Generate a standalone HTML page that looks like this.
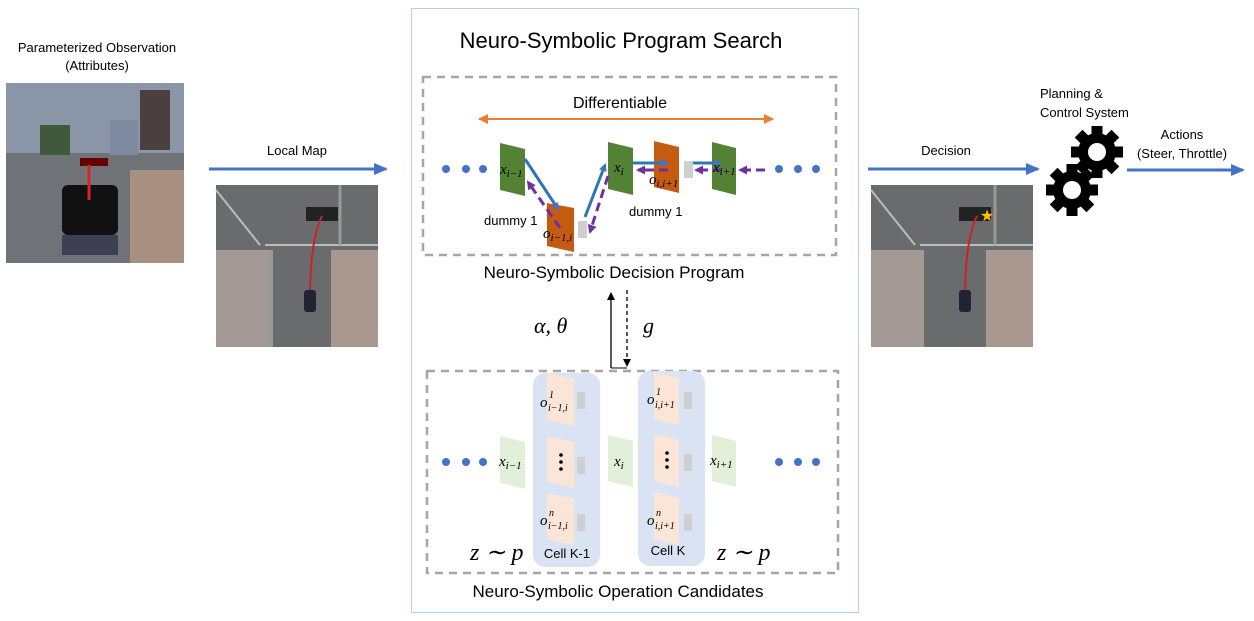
<!DOCTYPE html>
<html><head><meta charset="utf-8"><style>
body{margin:0;background:#fff;}
svg{display:block;font-family:"Liberation Sans",sans-serif;}
.m{font-family:"Liberation Serif",serif;font-style:italic;}
</style></head><body>
<svg width="1254" height="621" viewBox="0 0 1254 621" xmlns="http://www.w3.org/2000/svg">
<defs>
<marker id="ab" markerWidth="8" markerHeight="8" refX="6" refY="4" orient="auto" markerUnits="userSpaceOnUse"><path d="M0,0 L8,4 L0,8z" fill="#4472c4"/></marker>
<marker id="ab2" markerWidth="14" markerHeight="12" refX="12" refY="6" orient="auto" markerUnits="userSpaceOnUse"><path d="M0,0 L14,6 L0,12z" fill="#4472c4"/></marker>
<marker id="ap" markerWidth="9" markerHeight="9" refX="7" refY="4.5" orient="auto" markerUnits="userSpaceOnUse"><path d="M0,0 L9,4.5 L0,9z" fill="#7030a0"/></marker>
<marker id="ao" markerWidth="10" markerHeight="10" refX="9" refY="5" orient="auto-start-reverse" markerUnits="userSpaceOnUse"><path d="M0,0 L10,5 L0,10z" fill="#ed7d31"/></marker>
<marker id="ak" markerWidth="8" markerHeight="8" refX="7" refY="4" orient="auto" markerUnits="userSpaceOnUse"><path d="M0,0 L8,4 L0,8z" fill="#000"/></marker>
<g id="gear">
<circle r="19" fill="#000"/><g fill="#000">
<rect x="-5.5" y="-26" width="11" height="52"/><rect x="-5.5" y="-26" width="11" height="52" transform="rotate(45)"/>
<rect x="-5.5" y="-26" width="11" height="52" transform="rotate(90)"/><rect x="-5.5" y="-26" width="11" height="52" transform="rotate(135)"/></g>
<circle r="9" fill="#fff"/></g>
</defs>

<text x="97" y="52" font-size="13" text-anchor="middle">Parameterized Observation</text>
<text x="97" y="70" font-size="13" text-anchor="middle">(Attributes)</text>
<rect x="6" y="83" width="178" height="180" fill="#6f7378"/>
<rect x="6" y="83" width="178" height="70" fill="#8b95a8"/>
<rect x="140" y="90" width="30" height="60" fill="#4a4040"/>
<rect x="110" y="120" width="28" height="35" fill="#7d8aa0"/>
<rect x="40" y="125" width="30" height="30" fill="#3e5a3a"/>
<rect x="130" y="170" width="54" height="93" fill="#a89080"/>
<rect x="62" y="185" width="56" height="50" rx="6" fill="#111"/>
<rect x="62" y="235" width="56" height="20" fill="#3c4050"/>
<rect x="80" y="158" width="28" height="8" fill="#600"/>
<line x1="89" y1="165" x2="89" y2="200" stroke="#d22" stroke-width="3"/>

<text x="297" y="155" font-size="13" text-anchor="middle">Local Map</text>
<line x1="209" y1="169" x2="386" y2="169" stroke="#4472c4" stroke-width="3" marker-end="url(#ab2)"/>
<rect x="216" y="185" width="162" height="162" fill="#6a6b6c"/>
<rect x="216" y="250" width="53" height="97" fill="#a39a96"/>
<rect x="331" y="250" width="47" height="97" fill="#a99890"/>
<rect x="269" y="250" width="4" height="97" fill="#999"/>
<line x1="216" y1="190" x2="260" y2="245" stroke="#bbb" stroke-width="2"/>
<line x1="265" y1="245" x2="378" y2="245" stroke="#bbb" stroke-width="2"/>
<line x1="340" y1="185" x2="340" y2="245" stroke="#999" stroke-width="3"/>
<rect x="306" y="207" width="32" height="14" fill="#222"/>
<path d="M322,216 Q310,240 310,300" stroke="#c22" stroke-width="2" fill="none"/>
<rect x="304" y="290" width="12" height="22" rx="3" fill="#223"/>

<rect x="411.5" y="8.5" width="447" height="604" fill="none" stroke="#b4d0e8" stroke-width="1"/>
<text x="621" y="48" font-size="22" text-anchor="middle">Neuro-Symbolic Program Search</text>

<rect x="423" y="77" width="413" height="178" fill="none" stroke="#a6a6a6" stroke-width="2.5" stroke-dasharray="8,6"/>
<text x="620" y="108" font-size="16" text-anchor="middle">Differentiable</text>
<line x1="479" y1="119" x2="773" y2="119" stroke="#ed7d31" stroke-width="2" marker-start="url(#ao)" marker-end="url(#ao)"/>

<g fill="#4472c4">
<circle cx="446" cy="169" r="4"/><circle cx="466" cy="169" r="4"/><circle cx="483" cy="169" r="4"/>
<circle cx="779" cy="169" r="4"/><circle cx="798" cy="169" r="4"/><circle cx="816" cy="169" r="4"/>
</g>
<polygon points="500,143 525,149 525,196 500,190" fill="#548235"/>
<polygon points="547,203 574,208 574,252 547,246" fill="#c55a11"/>
<rect x="578" y="221" width="9" height="17" fill="#d0cece"/>
<polygon points="608,142 633,148 633,195 608,189" fill="#548235"/>
<polygon points="654,141 679,147 679,193 654,187" fill="#c55a11"/>
<rect x="684" y="161" width="9" height="17" fill="#d0cece"/>
<polygon points="712,142 736,148 736,195 712,189" fill="#548235"/>

<g stroke="#2e75b6" stroke-width="3">
<line x1="525" y1="159" x2="558" y2="209" marker-end="url(#ab)"/>
<line x1="585" y1="217" x2="605" y2="165" marker-end="url(#ab)"/>
<line x1="633" y1="163" x2="667" y2="163" marker-end="url(#ab)"/>
<line x1="693" y1="163" x2="720" y2="163" marker-end="url(#ab)"/>
</g>
<g stroke="#7030a0" stroke-width="3" stroke-dasharray="9,5">
<line x1="560" y1="228" x2="528" y2="182" marker-end="url(#ap)"/>
<line x1="608" y1="176" x2="590" y2="232" marker-end="url(#ap)"/>
<line x1="668" y1="170" x2="638" y2="170" marker-end="url(#ap)"/>
<line x1="722" y1="170" x2="696" y2="170" marker-end="url(#ap)"/>
<line x1="765" y1="170" x2="740" y2="170" marker-end="url(#ap)"/>
</g>
<text class="m" x="500" y="174" font-size="15">x<tspan font-size="11" dy="3">i−1</tspan></text>
<text class="m" x="614" y="172" font-size="15">x<tspan font-size="11" dy="3">i</tspan></text>
<text class="m" x="713" y="172" font-size="15">x<tspan font-size="11" dy="3">i+1</tspan></text>
<text class="m" x="543" y="238" font-size="15">o<tspan font-size="11" dy="3">i−1,i</tspan></text>
<text class="m" x="649" y="184" font-size="15">o<tspan font-size="11" dy="3">i,i+1</tspan></text>
<text x="484" y="225" font-size="13">dummy 1</text>
<text x="629" y="216" font-size="13">dummy 1</text>

<text x="614" y="278" font-size="17" text-anchor="middle">Neuro-Symbolic Decision Program</text>

<line x1="611" y1="368" x2="611" y2="293" stroke="#000" stroke-width="1.3" marker-end="url(#ak)"/>
<line x1="627" y1="290" x2="627" y2="366" stroke="#000" stroke-width="1.3" stroke-dasharray="4,3" marker-end="url(#ak)"/>
<line x1="611" y1="368" x2="627" y2="368" stroke="#000" stroke-width="1"/>
<text class="m" x="534" y="333" font-size="22">α, θ</text>
<text class="m" x="643" y="333" font-size="22">g</text>

<rect x="427" y="371" width="411" height="202" fill="none" stroke="#a6a6a6" stroke-width="2.5" stroke-dasharray="8,6"/>
<rect x="533" y="373" width="67" height="194" rx="12" fill="#dae3f3"/>
<rect x="638" y="371" width="67" height="195" rx="12" fill="#dae3f3"/>
<g fill="#fbe5d6">
<polygon points="547,373 574,379 574,426 547,420"/>
<polygon points="547,436 574,442 574,488 547,482"/>
<polygon points="547,493 574,499 574,545 547,539"/>
<polygon points="654,372 679,378 679,425 654,419"/>
<polygon points="654,434 679,440 679,487 654,481"/>
<polygon points="654,492 679,498 679,545 654,539"/>
</g>
<g fill="#d0cece">
<rect x="577" y="392" width="8" height="17"/><rect x="577" y="457" width="8" height="17"/><rect x="577" y="514" width="8" height="17"/>
<rect x="684" y="392" width="8" height="17"/><rect x="684" y="454" width="8" height="17"/><rect x="684" y="514" width="8" height="17"/>
</g>
<g fill="#e2f0d9">
<polygon points="500,436 525,442 525,489 500,483"/>
<polygon points="608,435 633,441 633,487 608,481"/>
<polygon points="712,435 736,441 736,487 712,481"/>
</g>
<g fill="#4472c4">
<circle cx="446" cy="462" r="4"/><circle cx="466" cy="462" r="4"/><circle cx="483" cy="462" r="4"/>
<circle cx="779" cy="462" r="4"/><circle cx="798" cy="462" r="4"/><circle cx="816" cy="462" r="4"/>
</g>
<g fill="#000"><circle cx="561" cy="455" r="1.8"/><circle cx="561" cy="462" r="1.8"/><circle cx="561" cy="469" r="1.8"/>
<circle cx="667" cy="453" r="1.8"/><circle cx="667" cy="460" r="1.8"/><circle cx="667" cy="467" r="1.8"/></g>
<text class="m" x="499" y="466" font-size="15">x<tspan font-size="11" dy="3">i−1</tspan></text>
<text class="m" x="614" y="466" font-size="15">x<tspan font-size="11" dy="3">i</tspan></text>
<text class="m" x="710" y="465" font-size="15">x<tspan font-size="11" dy="3">i+1</tspan></text>
<text class="m" x="540" y="407" font-size="15">o</text><text class="m" x="549" y="398" font-size="10">1</text><text class="m" x="548" y="411" font-size="10">i−1,i</text>
<text class="m" x="540" y="525" font-size="15">o</text><text class="m" x="549" y="516" font-size="10">n</text><text class="m" x="548" y="529" font-size="10">i−1,i</text>
<text class="m" x="647" y="404" font-size="15">o</text><text class="m" x="656" y="395" font-size="10">1</text><text class="m" x="655" y="408" font-size="10">i,i+1</text>
<text class="m" x="647" y="525" font-size="15">o</text><text class="m" x="656" y="516" font-size="10">n</text><text class="m" x="655" y="529" font-size="10">i,i+1</text>
<text class="m" x="470" y="560" font-size="24">z ∼ p</text>
<text class="m" x="717" y="560" font-size="24">z ∼ p</text>
<text x="567" y="558" font-size="13" text-anchor="middle">Cell K-1</text>
<text x="668" y="555" font-size="13" text-anchor="middle">Cell K</text>
<text x="618" y="597" font-size="17" text-anchor="middle">Neuro-Symbolic Operation Candidates</text>

<text x="946" y="155" font-size="13" text-anchor="middle">Decision</text>
<line x1="868" y1="169" x2="1038" y2="169" stroke="#4472c4" stroke-width="3" marker-end="url(#ab2)"/>
<g transform="translate(655,0)">
<rect x="216" y="185" width="162" height="162" fill="#6a6b6c"/>
<rect x="216" y="250" width="53" height="97" fill="#a39a96"/>
<rect x="331" y="250" width="47" height="97" fill="#a99890"/>
<line x1="216" y1="190" x2="260" y2="245" stroke="#bbb" stroke-width="2"/>
<line x1="265" y1="245" x2="378" y2="245" stroke="#bbb" stroke-width="2"/>
<line x1="340" y1="185" x2="340" y2="245" stroke="#999" stroke-width="3"/>
<rect x="304" y="207" width="32" height="14" fill="#222"/>
<path d="M322,216 Q310,240 310,300" stroke="#c22" stroke-width="2" fill="none"/>
<rect x="304" y="290" width="12" height="22" rx="3" fill="#223"/>
<text x="332" y="221" font-size="16" fill="#ffc000" text-anchor="middle">★</text>
</g>

<text x="1040" y="98" font-size="13">Planning &amp;</text>
<text x="1040" y="117" font-size="13">Control System</text>
<use href="#gear" transform="translate(1097,152)"/>
<use href="#gear" transform="translate(1072,190)"/>

<text x="1182" y="139" font-size="13" text-anchor="middle">Actions</text>
<text x="1182" y="158" font-size="13" text-anchor="middle">(Steer, Throttle)</text>
<line x1="1127" y1="170" x2="1243" y2="170" stroke="#4472c4" stroke-width="3" marker-end="url(#ab2)"/>
</svg>
</body></html>
